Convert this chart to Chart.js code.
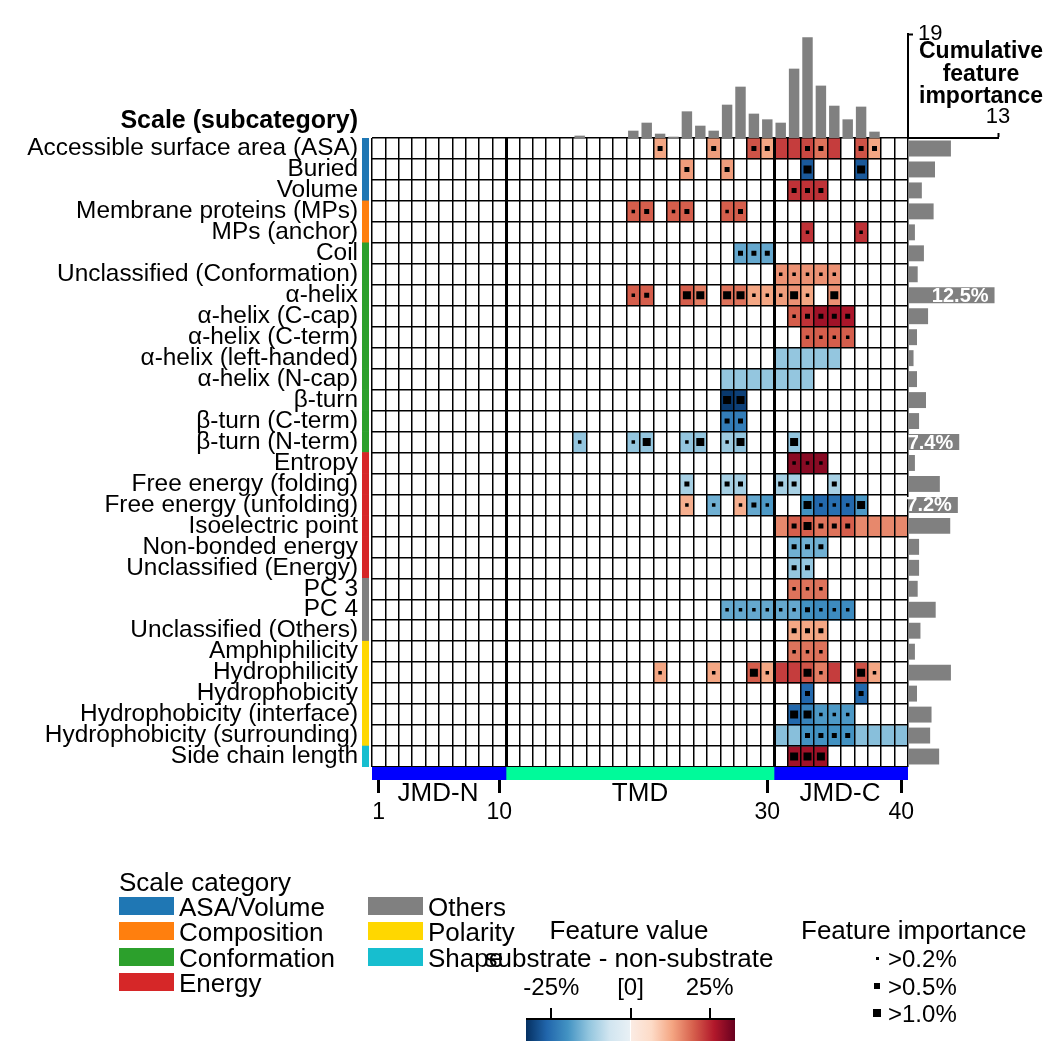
<!DOCTYPE html>
<html>
<head>
<meta charset="utf-8">
<script src="https://cdn.jsdelivr.net/npm/chart.js@4.4.1/dist/chart.umd.min.js"></script>
<style>
body { margin: 0; background: #fff; font-family: "Liberation Sans", Arial, sans-serif; }
#wrap { position: relative; width: 1050px; height: 1050px; overflow: hidden; }
canvas { position: absolute; left: 0; top: 0; }
.t { position: absolute; white-space: nowrap; color: #000; line-height: 1; }
.box { position: absolute; }
</style>
</head>
<body>
<div id="wrap">
  <canvas id="heat" width="1050" height="1050"></canvas>
  <canvas id="strip" width="1050" height="1050"></canvas>
  <canvas id="domain" width="1050" height="1050"></canvas>
  <canvas id="top" width="1050" height="1050"></canvas>
  <canvas id="right" width="1050" height="1050"></canvas>
</div>
<script>
// ---- data ----
const scaleNames = [
	"Accessible surface area (ASA)", "Buried", "Volume", "Membrane proteins (MPs)", "MPs (anchor)",
	"Coil", "Unclassified (Conformation)", "α-helix", "α-helix (C-cap)", "α-helix (C-term)",
	"α-helix (left-handed)", "α-helix (N-cap)", "β-turn", "β-turn (C-term)", "β-turn (N-term)",
	"Entropy", "Free energy (folding)", "Free energy (unfolding)", "Isoelectric point", "Non-bonded energy",
	"Unclassified (Energy)", "PC 3", "PC 4", "Unclassified (Others)", "Amphiphilicity",
	"Hydrophilicity", "Hydrophobicity", "Hydrophobicity (interface)", "Hydrophobicity (surrounding)", "Side chain length",
];
const scaleCategory = [0, 0, 0, 1, 1, 2, 2, 2, 2, 2, 2, 2, 2, 2, 2, 3, 3, 3, 3, 3, 3, 4, 4, 4, 5, 5, 5, 5, 5, 6];
const categoryNames = ["ASA/Volume", "Composition", "Conformation", "Energy", "Others", "Polarity", "Shape"];
const categoryColors = ["#1f77b4", "#ff7f0e", "#2ca02c", "#d62728", "#808080", "#ffd700", "#17becf"];

const positions = Array.from({ length: 40 }, (_, i) => String(i + 1));

// per scale: [position, feature value (%), importance level 0-3]
const featureCells = [
	[[22, 13, 2], [26, 14, 2], [29, 21, 2], [30, 13, 2], [31, 23, 0], [32, 23, 0], [33, 22, 2], [34, 18, 2], [35, 23, 0], [37, 21, 2], [38, 13, 2]],
	[[24, 14, 2], [27, 14, 2], [33, -28, 3], [37, -28, 3]],
	[[32, 24, 2], [33, 24, 2], [34, 24, 2]],
	[[20, 20, 1], [21, 20, 2], [23, 20, 1], [24, 20, 2], [27, 20, 1], [28, 20, 2]],
	[[33, 24, 1], [37, 24, 1]],
	[[28, -17, 2], [29, -17, 2], [30, -17, 2]],
	[[31, 15, 1], [32, 15, 1], [33, 15, 1], [34, 15, 1], [35, 15, 1]],
	[[20, 20, 1], [21, 20, 2], [24, 20, 3], [25, 17, 3], [27, 18, 3], [28, 18, 3], [29, 13, 1], [30, 13, 1], [31, 14, 1], [32, 15, 3], [33, 13, 1], [35, 15, 3]],
	[[32, 20, 1], [33, 24, 2], [34, 28, 2], [35, 28, 2], [36, 27, 2]],
	[[33, 20, 1], [34, 20, 1], [35, 20, 1], [36, 20, 1]],
	[[31, -13, 0], [32, -13, 0], [33, -13, 0], [34, -13, 0], [35, -13, 0]],
	[[27, -13, 0], [28, -13, 0], [29, -13, 0], [30, -13, 0], [31, -13, 0], [32, -13, 0], [33, -13, 0]],
	[[27, -32, 3], [28, -31, 3]],
	[[27, -23, 2], [28, -23, 2]],
	[[16, -13, 1], [20, -13, 1], [21, -13, 3], [24, -13, 1], [25, -13, 3], [27, -12, 1], [28, -13, 3], [32, -13, 3]],
	[[32, 30, 1], [33, 30, 1], [34, 30, 1]],
	[[24, -11, 2], [27, -11, 2], [28, -11, 2], [31, -11, 2], [32, -11, 2], [35, -11, 2]],
	[[24, 12, 1], [26, -16, 1], [28, 12, 1], [29, -17, 2], [30, -19, 1], [33, -20, 3], [34, -26, 1], [35, -25, 1], [36, -26, 1], [37, -19, 3]],
	[[31, 16, 0], [32, 20, 2], [33, 20, 3], [34, 18, 2], [35, 18, 2], [36, 20, 2], [37, 16, 0], [38, 16, 0], [39, 16, 0], [40, 16, 0]],
	[[32, -16, 2], [33, -16, 2], [34, -16, 2]],
	[[32, -13, 2], [33, -13, 2]],
	[[32, 18, 1], [33, 18, 1], [34, 18, 1]],
	[[27, -17, 1], [28, -17, 1], [29, -17, 1], [30, -17, 1], [31, -17, 1], [32, -17, 1], [33, -20, 2], [34, -21, 1], [35, -21, 1], [36, -21, 1]],
	[[32, 13, 2], [33, 13, 2], [34, 13, 2]],
	[[32, 18, 1], [33, 18, 1], [34, 18, 1]],
	[[22, 13, 1], [26, 13, 1], [29, 20, 3], [30, 13, 1], [31, 23, 0], [32, 23, 0], [33, 21, 3], [34, 17, 1], [35, 23, 0], [37, 21, 3], [38, 13, 1]],
	[[33, -26, 2], [37, -26, 2]],
	[[32, -26, 3], [33, -22, 3], [34, -19, 1], [35, -19, 1], [36, -19, 1]],
	[[31, -14, 0], [32, -14, 0], [33, -20, 2], [34, -20, 2], [35, -20, 2], [36, -20, 2], [37, -14, 0], [38, -14, 0], [39, -14, 0], [40, -14, 0]],
	[[32, 28, 3], [33, 28, 3], [34, 28, 3]],
];

// cumulative feature importance per position (%)
const positionImportance = [
	0, 0, 0, 0, 0, 0, 0, 0, 0, 0,
	0, 0, 0, 0, 0, 0.43, 0, 0, 0, 1.34,
	2.8, 0.79, 0.24, 4.87, 2.25, 1.34, 6.09, 9.38, 4.45, 3.41,
	2.8, 12.67, 18.4, 9.57, 5.9, 3.41, 5.73, 1.16, 0, 0,
];
// cumulative feature importance per scale (%)
const scaleImportance = [6.2, 3.9, 2.0, 3.7, 1.0, 2.3, 1.4, 12.5, 2.9, 1.3, 0.8, 1.3, 2.6, 1.6, 7.4, 1.0, 4.6, 7.2, 6.1, 1.6, 1.6, 1.4, 4.0, 1.8, 1.0, 6.2, 1.3, 3.4, 3.2, 4.5];
const labelThreshold = 7;

const domainNames = ["JMD-N", "TMD", "JMD-C"];
const domainRanges = [[0.5, 10.5], [10.5, 30.5], [30.5, 40.5]];
const domainColors = ["#0000ff", "#00fa9a", "#0000ff"];
const xTickValues = [1, 10, 30, 40];
const tmdBorders = [10, 30];

const dotSizes = [0, 3.5, 5, 8];
const dotLabels = [">0.2%", ">0.5%", ">1.0%"];
const colorbarTicks = [-25, 0, 25];
const colorbarTickLabels = ["-25%", "[0]", "25%"];
const vLim = 33;

// ---- colour map (RdBu_r) ----
const rdbu = ["#053061", "#2166ac", "#4393c3", "#92c5de", "#d1e5f0", "#f7f7f7", "#fddbc7", "#f4a582", "#d6604d", "#b2182b", "#67001f"];
function hex2rgb(h) { return [1, 3, 5].map((i) => parseInt(h.substr(i, 2), 16)); }
function cmap(v) {
	let t = (v + vLim) / (2 * vLim);
	t = Math.max(0, Math.min(1, t));
	const f = t * 10, i = Math.min(9, Math.floor(f)), u = f - i;
	const a = hex2rgb(rdbu[i]), b = hex2rgb(rdbu[i + 1]);
	return "rgb(" + a.map((c, k) => Math.round(c + (b[k] - c) * u)).join(",") + ")";
}

Chart.defaults.font.family = '"Liberation Sans", Arial, sans-serif';
Chart.defaults.color = "#000";
const base = { responsive: false, animation: false, events: [], devicePixelRatio: 1 };
const noPlugins = { legend: { display: false }, tooltip: { enabled: false } };

// ---- heatmap ----
const heatSets = scaleNames.map((name, r) => {
	const colors = positions.map(() => "#ffffff");
	featureCells[r].forEach(([p, v]) => { colors[p - 1] = cmap(v); });
	return {
		type: "bar",
		label: name,
		data: positions.map(() => [r, r + 1]),
		backgroundColor: colors,
		borderWidth: 0,
		grouped: false,
		barPercentage: 1,
		categoryPercentage: 1,
		order: 2,
	};
});
const dots = [];
featureCells.forEach((row, r) => row.forEach(([p, v, lvl]) => {
	if (lvl > 0) dots.push({ x: String(p), y: r + 0.5, s: dotSizes[lvl] });
}));
heatSets.push({
	type: "line",
	data: dots,
	showLine: false,
	pointStyle: "rect",
	pointRadius: dots.map((d) => d.s / Math.SQRT2),
	pointBorderWidth: 0,
	pointBackgroundColor: "#000",
	order: 0,
});

new Chart(document.getElementById("heat"), {
	type: "bar",
	data: { labels: positions, datasets: heatSets },
	options: {
		...base,
		layout: { padding: { left: 0, right: 142, top: 138, bottom: 283 } },
		plugins: noPlugins,
		scales: {
			x: {
				offset: true,
				afterFit: (s) => { s.height = 0; },
				ticks: { display: false },
				border: { display: false },
				grid: {
					offset: true, z: 1, color: "#000", drawTicks: false,
					lineWidth: (ctx) => (tmdBorders.includes(ctx.index) ? 3 : 1.5),
				},
			},
			y: {
				type: "linear", min: 0, max: 30, reverse: true,
				afterFit: (s) => { s.width = 372; },
				afterBuildTicks: (s) => { s.ticks = scaleNames.map((_, i) => ({ value: i + 0.5 })); },
				ticks: { autoSkip: false, padding: 14, font: { size: 24.4 }, callback: (v, i) => scaleNames[i] },
				grid: { display: false, drawTicks: false },
				border: { display: false },
			},
			yg: {
				type: "linear", min: 0, max: 30, reverse: true, position: "right",
				afterFit: (s) => { s.width = 0; },
				afterBuildTicks: (s) => { s.ticks = Array.from({ length: 31 }, (_, i) => ({ value: i })); },
				ticks: { display: false },
				grid: { color: "#000", lineWidth: 1.5, z: 1, drawTicks: false },
				border: { display: false },
			},
		},
	},
});

// ---- category strip ----
new Chart(document.getElementById("strip"), {
	type: "bar",
	data: {
		labels: scaleNames,
		datasets: [{
			data: scaleNames.map(() => 1),
			backgroundColor: scaleCategory.map((c) => categoryColors[c]),
			barPercentage: 1, categoryPercentage: 1, borderWidth: 0,
		}],
	},
	options: {
		...base,
		indexAxis: "y",
		layout: { padding: { left: 362, right: 681, top: 138, bottom: 283 } },
		plugins: noPlugins,
		scales: { x: { display: false, min: 0, max: 1 }, y: { display: false } },
	},
});

// ---- domain bar ----
new Chart(document.getElementById("domain"), {
	type: "bar",
	data: {
		labels: ["domain"],
		datasets: domainNames.map((n, i) => ({
			label: n, data: [domainRanges[i]], backgroundColor: domainColors[i],
			barPercentage: 1, categoryPercentage: 1, grouped: false, borderWidth: 0,
		})),
	},
	options: {
		...base,
		indexAxis: "y",
		layout: { padding: { left: 372, right: 142, top: 767, bottom: 210 } },
		plugins: noPlugins,
		scales: {
			y: { display: false },
			x: {
				type: "linear", min: 0.5, max: 40.5,
				afterFit: (s) => { s.height = 60; },
				afterBuildTicks: (s) => { s.ticks = xTickValues.map((v) => ({ value: v })); },
				grid: { drawOnChartArea: false, tickLength: 13, tickWidth: 3, tickColor: "#000" },
				border: { display: false },
				ticks: { font: { size: 23 }, padding: 6, maxRotation: 0, autoSkip: false },
			},
		},
	},
});

// ---- top bars: importance per position ----
new Chart(document.getElementById("top"), {
	type: "bar",
	data: { labels: positions, datasets: [{ data: positionImportance, backgroundColor: "#808080", barPercentage: 0.78, categoryPercentage: 1 }] },
	options: {
		...base,
		layout: { padding: { left: 372, right: 82, top: 34, bottom: 912 } },
		plugins: noPlugins,
		scales: {
			x: { display: false },
			y: {
				position: "right", min: 0, max: 19,
				afterFit: (s) => { s.width = 60; },
				afterBuildTicks: (s) => { s.ticks = [{ value: 19 }]; },
				grid: { drawOnChartArea: false, tickLength: 5, tickWidth: 2, tickColor: "#000" },
				border: { display: true, color: "#000", width: 2 },
				ticks: { font: { size: 22 }, padding: 5 },
			},
		},
	},
});

// ---- right bars: importance per scale ----
const barLabels = {
	id: "barLabels",
	afterDatasetsDraw(chart) {
		const ctx = chart.ctx;
		ctx.save();
		ctx.font = 'bold 20px "Liberation Sans", Arial, sans-serif';
		ctx.fillStyle = "#fff";
		ctx.textAlign = "right";
		ctx.textBaseline = "middle";
		chart.getDatasetMeta(0).data.forEach((el, i) => {
			const v = scaleImportance[i];
			if (v >= labelThreshold) ctx.fillText(v.toFixed(1) + "%", el.x - 6, el.y + 1);
		});
		ctx.restore();
	},
};
new Chart(document.getElementById("right"), {
	type: "bar",
	data: { labels: scaleNames, datasets: [{ data: scaleImportance, backgroundColor: "#808080", barPercentage: 0.76, categoryPercentage: 1 }] },
	options: {
		...base,
		indexAxis: "y",
		layout: { padding: { left: 908, right: 52, top: 98, bottom: 283 } },
		plugins: noPlugins,
		scales: {
			y: { display: false },
			x: {
				position: "top", min: 0, max: 13,
				afterFit: (s) => { s.height = 40; },
				afterBuildTicks: (s) => { s.ticks = [{ value: 13 }]; },
				grid: { drawOnChartArea: false, tickLength: 5, tickWidth: 2, tickColor: "#000" },
				border: { display: true, color: "#000", width: 2 },
				ticks: { font: { size: 22 }, padding: 3, maxRotation: 0 },
			},
		},
	},
	plugins: [barLabels],
});

// ---- text and legends ----
const wrap = document.getElementById("wrap");
function addText(txt, x, y, size, align, bold) {
	const d = document.createElement("div");
	d.className = "t";
	d.textContent = txt;
	d.style.left = x + "px";
	d.style.top = y + "px";
	d.style.fontSize = size + "px";
	if (bold) d.style.fontWeight = "bold";
	const tx = align === "center" ? "-50%" : align === "right" ? "-100%" : "0";
	d.style.transform = "translate(" + tx + ",-50%)";
	wrap.appendChild(d);
}
function addBox(x, y, w, h, color) {
	const d = document.createElement("div");
	d.className = "box";
	Object.assign(d.style, { left: x + "px", top: y + "px", width: w + "px", height: h + "px", background: color });
	wrap.appendChild(d);
}

addText("Scale (subcategory)", 358, 119, 25, "right", true);
["Cumulative", "feature", "importance"].forEach((s, i) => addText(s, 981, 50 + i * 22.5, 23, "center", true));
const domainCenters = [438, 640, 840];
domainNames.forEach((n, i) => addText(n, domainCenters[i], 792, 26, "center"));

addText("Scale category", 119, 882, 26, "left");
categoryNames.forEach((n, i) => {
	const col = i < 4 ? 0 : 1, row = i < 4 ? i : i - 4;
	const bx = col ? 368 : 119, by = 897 + row * 25.3;
	addBox(bx, by, 55, 18, categoryColors[i]);
	addText(n, bx + 60, by + 10, 26, "left");
});

addText("Feature value", 629, 930, 26, "center");
addText("substrate - non-substrate", 629, 958, 26, "center");
const cbLeft = 526, cbWidth = 209, cbTop = 1019;
const stops = rdbu.map((c, i) => c + " " + (i * 10) + "%");
stops.splice(5, 1, "#e8f0f5 49.6%", "#ffffff 49.6%", "#ffffff 50.4%", "#fbebe3 50.4%");
addBox(cbLeft, cbTop, cbWidth, 22, "linear-gradient(to right," + stops.join(",") + ")");
addBox(cbLeft, cbTop - 1, cbWidth, 2, "#000");
colorbarTicks.forEach((v, i) => {
	const x = cbLeft + (v + vLim) / (2 * vLim) * cbWidth;
	addBox(x - 1, cbTop - 11, 2, 11, "#000");
	addText(colorbarTickLabels[i], x, 987, 24, "center");
});

addText("Feature importance", 801, 930, 26, "left");
const legendDots = [3, 6, 8];
dotLabels.forEach((n, i) => {
	const s = legendDots[i], cy = 958 + i * 27.5;
	addBox(Math.round(877 - s / 2), Math.round(cy - s / 2), s, s, "#000");
	addText(n, 888, cy + 1, 24, "left");
});
</script>
</body>
</html>
